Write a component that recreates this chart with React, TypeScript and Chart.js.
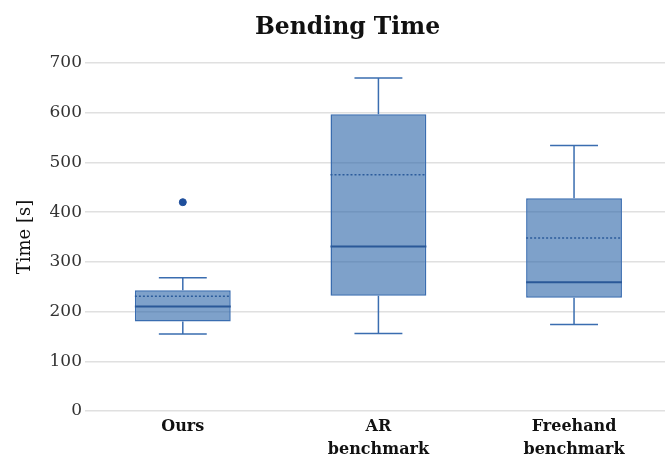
import React, { useEffect, useRef } from "react";
import { Chart, registerables } from "chart.js";

Chart.register(...registerables);

const categories: string[][] = [["Ours"], ["AR", "benchmark"], ["Freehand", "benchmark"]];
const whiskerMin = [155, 156, 174];
const q1 = [180, 232, 228];
const median = [210, 331, 259];
const mean = [231, 475, 348];
const q3 = [243, 597, 428];
const whiskerMax = [268, 670, 534];
const outliers = [{ cat: 0, value: 420 }];
const yTicks = [0, 100, 200, 300, 400, 500, 600, 700];
const chartTitle = "Bending Time";

const FONT = "'DejaVu Serif', 'Liberation Serif', serif";
const EDGE = "#3a6db0";

const titlePlugin = {
  id: "shiftedTitle",
  afterDraw(chart: any) {
    const ctx = chart.ctx;
    ctx.save();
    ctx.font = `bold 23.5px ${FONT}`;
    ctx.fillStyle = "#111";
    ctx.textAlign = "center";
    ctx.textBaseline = "alphabetic";
    ctx.fillText(chartTitle, chart.width / 2 + 15, 33.5);
    ctx.restore();
  },
};

const boxPlugin = {
  id: "boxWhiskers",
  afterDatasetsDraw(chart: any) {
    const meta = chart.getDatasetMeta(0);
    const ys = chart.scales.y;
    const ctx = chart.ctx;
    ctx.save();
    meta.data.forEach((bar: any, i: number) => {
      const x = bar.x;
      const half = bar.width / 2;
      const cap = bar.width / 4;
      const yMin = ys.getPixelForValue(whiskerMin[i]);
      const yMax = ys.getPixelForValue(whiskerMax[i]);
      const yQ1 = ys.getPixelForValue(q1[i]);
      const yQ3 = ys.getPixelForValue(q3[i]);
      const yMed = ys.getPixelForValue(median[i]);
      const yMean = ys.getPixelForValue(mean[i]);
      ctx.strokeStyle = EDGE;
      ctx.lineWidth = 1.5;
      ctx.setLineDash([]);
      ctx.beginPath();
      ctx.moveTo(x, yQ3);
      ctx.lineTo(x, yMax);
      ctx.moveTo(x - cap, yMax);
      ctx.lineTo(x + cap, yMax);
      ctx.moveTo(x, yQ1);
      ctx.lineTo(x, yMin);
      ctx.moveTo(x - cap, yMin);
      ctx.lineTo(x + cap, yMin);
      ctx.stroke();
      ctx.strokeStyle = "#2a5898";
      ctx.lineWidth = 2;
      ctx.beginPath();
      ctx.moveTo(x - half, yMed);
      ctx.lineTo(x + half, yMed);
      ctx.stroke();
      ctx.strokeStyle = "#2c5c9c";
      ctx.lineWidth = 1.5;
      ctx.setLineDash([2, 2]);
      ctx.beginPath();
      ctx.moveTo(x - half, yMean);
      ctx.lineTo(x + half, yMean);
      ctx.stroke();
    });
    ctx.restore();
  },
};

export default function App() {
  const ref = useRef<HTMLCanvasElement | null>(null);
  useEffect(() => {
    document.body.style.margin = "0";
    if (!ref.current) return;
    const chart = new Chart(ref.current, {
      type: "bar",
      data: {
        datasets: [
          {
            type: "bar",
            data: q1.map((v, i) => ({ x: i, y: [v, q3[i]] })) as any,
            backgroundColor: "rgba(46,104,170,0.62)",
            borderColor: EDGE,
            borderWidth: 1.5,
            borderSkipped: false,
            barPercentage: 0.49,
            categoryPercentage: 1,
          },
          {
            type: "scatter",
            data: outliers.map((o) => ({ x: o.cat, y: o.value })) as any,
            backgroundColor: "#1f4f9c",
            borderColor: "#1f4f9c",
            pointRadius: 3.5,
          },
        ],
      },
      options: {
        animation: false,
        responsive: true,
        maintainAspectRatio: false,
        layout: { padding: { top: 63 }, autoPadding: false },
        plugins: {
          legend: { display: false },
          tooltip: { enabled: false },
          title: { display: false },
        },
        scales: {
          x: {
            type: "linear",
            offset: false,
            min: -0.5,
            max: 2.465,
            grid: { display: false, drawTicks: false },
            border: { display: false },
            afterBuildTicks: (scale: any) => {
              scale.ticks = categories.map((_, i) => ({ value: i }));
            },
            afterFit: (scale: any) => {
              scale.height = 47;
              scale.paddingLeft = 0;
              scale.paddingRight = 0;
            },
            ticks: {
              autoSkip: false,
              maxRotation: 0,
              padding: 4,
              color: "#111",
              font: { family: FONT, size: 16, weight: "bold", lineHeight: 1.44 },
              callback: (v: any) => categories[Number(v)] ?? "",
            },
          },
          y: {
            min: 0,
            max: 700,
            afterBuildTicks: (scale: any) => {
              scale.ticks = yTicks.map((v) => ({ value: v }));
            },
            afterFit: (scale: any) => {
              scale.width = 85;
              scale.paddingTop = 0;
              scale.paddingBottom = 0;
            },
            grid: { color: "#e0e0e0", lineWidth: 1.5, drawTicks: false },
            border: { display: false },
            ticks: {
              padding: 3,
              color: "#333",
              font: { family: FONT, size: 17 },
            },
            title: {
              display: true,
              text: "Time [s]",
              color: "#111",
              font: { family: FONT, size: 18 },
              padding: { top: 15, bottom: 0 },
            },
          },
        },
      },
      plugins: [boxPlugin, titlePlugin],
    });
    return () => chart.destroy();
  }, []);
  return (
    <div style={{ width: 665, height: 458, position: "relative" }}>
      <canvas ref={ref} />
    </div>
  );
}
